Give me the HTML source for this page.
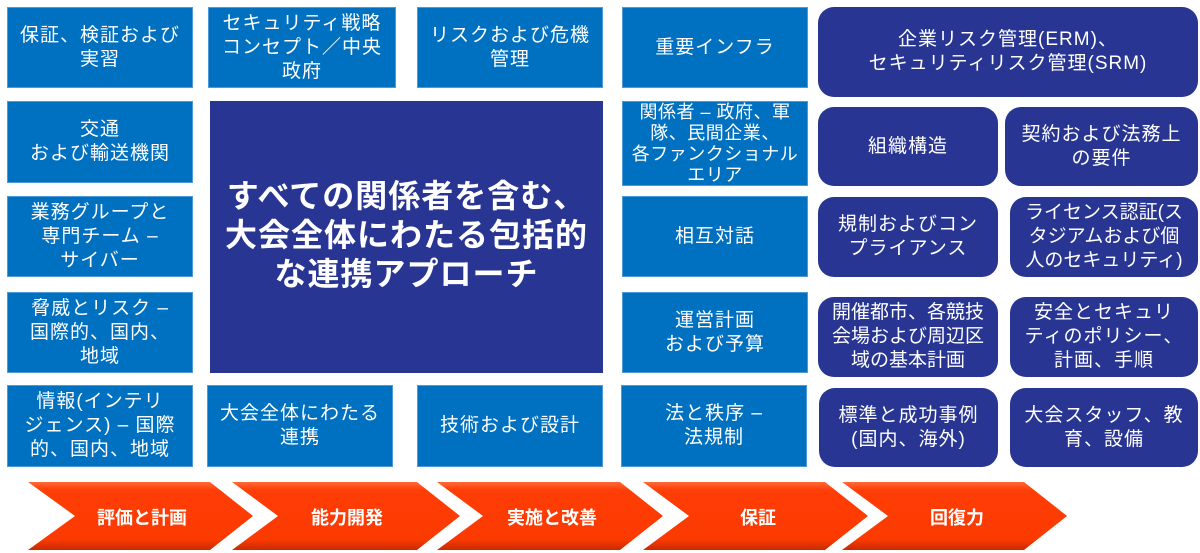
<!DOCTYPE html>
<html><head><meta charset="utf-8"><style>
body{margin:0;width:1200px;height:553px;background:#fff;position:relative;overflow:hidden;font-family:"Liberation Sans","Noto Sans CJK JP",sans-serif;}
.b{position:absolute;display:flex;align-items:center;justify-content:center;text-align:center;color:#fff;font-size:19px;line-height:24px;letter-spacing:1px;box-sizing:border-box;white-space:nowrap;}
.l{background:#0070C0;border:1px solid #4d9ad6;}
.r{background:#283593;border-radius:16px;}
.c{background:#283593;font-size:32px;line-height:39px;font-weight:bold;letter-spacing:1px;align-items:flex-start;padding-top:76px;}
</style></head><body>
<div class="b l" style="left:7px;top:7px;width:186px;height:81px">保証、検証および<br>実習</div>
<div class="b l" style="left:208px;top:7px;width:188px;height:81px">セキュリティ戦略<br>コンセプト／中央<br>政府</div>
<div class="b l" style="left:417px;top:7px;width:186px;height:81px">リスクおよび危機<br>管理</div>
<div class="b l" style="left:622px;top:7px;width:186px;height:81px">重要インフラ</div>
<div class="b r" style="left:818px;top:7px;width:380px;height:90px">企業リスク管理(ERM)、<br>セキュリティリスク管理(SRM)</div>

<div class="b l" style="left:7px;top:101px;width:186px;height:82px">交通<br>および輸送機関</div>
<div class="b c" style="left:210px;top:101px;width:393px;height:272px">すべての関係者を含む、<br>大会全体にわたる包括的<br>な連携アプローチ</div>
<div class="b l" style="left:622px;top:101px;width:186px;height:85px;line-height:21px;font-size:18px;letter-spacing:0.5px">関係者 – 政府、軍<br>隊、民間企業、<br>各ファンクショナル<br>エリア</div>
<div class="b r" style="left:818px;top:107px;width:180px;height:79px">組織構造</div>
<div class="b r" style="left:1005px;top:107px;width:193px;height:79px">契約および法務上<br>の要件</div>

<div class="b l" style="left:7px;top:196px;width:186px;height:81px">業務グループと<br>専門チーム –<br>サイバー</div>
<div class="b l" style="left:622px;top:196px;width:186px;height:81px">相互対話</div>
<div class="b r" style="left:818px;top:197px;width:180px;height:80px">規制およびコン<br>プライアンス</div>
<div class="b r" style="left:1010px;top:197px;width:188px;height:80px;letter-spacing:0">ライセンス認証(ス<br>タジアムおよび個<br>人のセキュリティ)</div>

<div class="b l" style="left:7px;top:292px;width:186px;height:81px">脅威とリスク –<br>国際的、国内、<br>地域</div>
<div class="b l" style="left:622px;top:292px;width:186px;height:81px">運営計画<br>および予算</div>
<div class="b r" style="left:818px;top:297px;width:180px;height:80px;letter-spacing:0">開催都市、各競技<br>会場および周辺区<br>域の基本計画</div>
<div class="b r" style="left:1010px;top:297px;width:188px;height:80px">安全とセキュリ<br>ティのポリシー、<br>計画、手順</div>

<div class="b l" style="left:7px;top:385px;width:186px;height:82px">情報(インテリ<br>ジェンス) – 国際<br>的、国内、地域</div>
<div class="b l" style="left:207px;top:385px;width:186px;height:82px">大会全体にわたる<br>連携</div>
<div class="b l" style="left:417px;top:385px;width:186px;height:82px">技術および設計</div>
<div class="b l" style="left:621px;top:385px;width:186px;height:82px">法と秩序 –<br>法規制</div>
<div class="b r" style="left:819px;top:388px;width:179px;height:79px">標準と成功事例<br>(国内、海外)</div>
<div class="b r" style="left:1010px;top:388px;width:188px;height:79px">大会スタッフ、教<br>育、設備</div>

<svg style="position:absolute;left:0;top:0" width="1200" height="553">
<defs><linearGradient id="g" x1="0" y1="0" x2="0" y2="1">
<stop offset="0" stop-color="#ff6a3a"/><stop offset="0.12" stop-color="#ff3d06"/><stop offset="0.85" stop-color="#fb3a00"/><stop offset="1" stop-color="#c82a00"/></linearGradient></defs>
<g fill="url(#g)">
<polygon points="28,482 210,482 253,516 210,550 28,550 75,516"/>
<polygon points="232,482 417,482 460,516 417,550 232,550 278,516"/>
<polygon points="437,482 620,482 663,516 620,550 437,550 483,516"/>
<polygon points="643,482 825,482 868,516 825,550 643,550 689,516"/>
<polygon points="842,482 1024,482 1067,516 1024,550 842,550 888,516"/>
</g>
<g fill="#fff" font-size="18" font-weight="bold" text-anchor="middle" font-family="Liberation Sans,Noto Sans CJK JP,sans-serif">
<text x="142" y="524">評価と計画</text>
<text x="347" y="524">能力開発</text>
<text x="552" y="524">実施と改善</text>
<text x="758" y="524">保証</text>
<text x="957" y="524">回復力</text>
</g>
</svg>
</body></html>
